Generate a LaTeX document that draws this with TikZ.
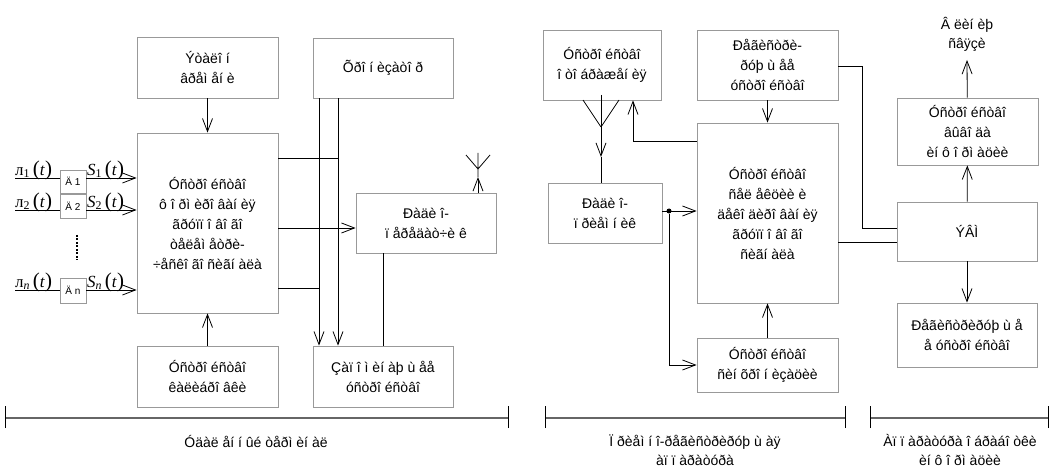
\documentclass[tikz,border=0pt]{standalone}
\usepackage{fontspec}
\setmainfont{Liberation Sans}
\newfontfamily\serif{Liberation Serif}
\usetikzlibrary{arrows.meta}
\newcommand{\pt}[1]{{\fontsize{21}{21}\selectfont(}\textit{#1}{\fontsize{21}{21}\selectfont)}}
\begin{document}
\begin{tikzpicture}[x=1pt,y=-1pt,
  box/.style={draw=black!40, fill=white, line width=0.8pt, align=center, inner sep=0pt, font=\fontsize{14}{20}\selectfont},
  sbox/.style={box, font=\fontsize{10}{12}\selectfont},
  conn/.style={line width=0.8pt, draw=black},
  arr/.style={conn, -{Straight Barb[length=13pt,width=10pt,line width=0.8pt]}},
  lbl/.style={inner sep=0pt, font=\fontsize{14}{19}\selectfont, align=center},
  frm/.style={inner sep=0pt, anchor=south west, font=\serif\fontsize{17}{17}\selectfont},
  dim/.style={line width=1.8pt, draw=black!60},
  tick/.style={line width=0.8pt, draw=black},
  dot/.style={circle, fill=black, inner sep=0pt, minimum size=5pt}
  ]
\useasboundingbox (0,0) rectangle (1055,470);
% ---------- left part ----------
\node[box, minimum width=141pt, minimum height=61pt] (et) at (207.5,67.5) {Ýòàëî í\\âðåì åí è};
\node[box, minimum width=141pt, minimum height=180pt] (main) at (207.5,223) {Óñòðî éñòâî\\ô î ðì èðî âàí èÿ\\ãðóïï î âî ãî\\òåëåì åòðè-\\÷åñêî ãî ñèãí àëà};
\node[box, minimum width=140pt, minimum height=60pt] (chr) at (383,68) {Õðî í èçàòî ð};
\node[box, minimum width=141pt, minimum height=61pt] (cal) at (207.5,376.5) {Óñòðî éñòâî\\êàëèáðî âêè};
\node[box, minimum width=140pt, minimum height=61pt] (mem) at (383,376.5) {Çàï î ì èí àþ ù åå\\óñòðî éñòâî};
\node[box, minimum width=140pt, minimum height=60pt] (tx) at (426,223) {Ðàäè î-\\ï åðåäàò÷è ê};

\node[sbox, minimum width=26pt, minimum height=23pt] (d1) at (73,181.5) {Ä 1};
\node[sbox, minimum width=26pt, minimum height=24pt] (d2) at (73,206.5) {Ä 2};
\node[sbox, minimum width=26pt, minimum height=25pt] (dn) at (73,290.5) {Ä n};

\coordinate (i1) at (15,178);
\coordinate (i2) at (15,210);
\coordinate (in) at (15,290);
\draw[conn] (i1) -- (i1 -| d1.west);
\draw[conn] (i2) -- (i2 -| d2.west);
\draw[conn] (in) -- (in -| dn.west);
\draw[arr] (i1 -| d1.east) -- (i1 -| main.west);
\draw[arr] (i2 -| d2.east) -- (i2 -| main.west);
\draw[arr] (in -| dn.east) -- (in -| main.west);
\node[frm] (l1) at (15,180) {л\textsubscript{1}\,\pt{t}};
\node[frm] (l2) at (15,212) {л\textsubscript{2}\,\pt{t}};
\node[frm] (ln) at (15,292) {л\textsubscript{\textit{n}}\,\pt{t}};
\node[frm] (s1) at (87,180) {\textit{S}\textsubscript{1}\,\pt{t}};
\node[frm] (s2) at (87,212) {\textit{S}\textsubscript{2}\,\pt{t}};
\node[frm] (sn) at (87,292) {\textit{S\textsubscript{n}}\,\pt{t}};
\coordinate (dt1) at (77,235);
\coordinate (dt2) at (77,260);
\draw[line width=2pt, dash pattern=on 2pt off 1.5pt] (dt1) -- (dt2);

\draw[arr] (et) -- (main);
\draw[arr] (cal) -- (main);
\coordinate (mo1) at (main.east |- 0,158);
\coordinate (mo2) at (main.east |- 0,228);
\coordinate (mo3) at (main.east |- 0,288);
\draw[arr] (mo2) -- (mo2 -| tx.west);
\draw[conn] (mo1) -- (338,158);
\draw[conn] (mo3) -- (319,288);
\draw[arr] (chr.south -| 338,0) -- (mem.north -| 338,0);
\draw[arr] (chr.south -| 319,0) -- (mem.north -| 319,0);
\draw[conn] (tx.south -| 383,0) -- (mem.north -| 383,0);
\coordinate (ant1) at (478,169);
\coordinate (ant1t) at (478,153);
\coordinate (ant1a) at (466,155);
\coordinate (ant1b) at (490,155);
\coordinate (ant1r) at (478,177);
\draw[arr] (tx.north -| ant1) -- (ant1r);
\draw[conn] (ant1r) -- (ant1t) (ant1) -- (ant1a) (ant1) -- (ant1b);

% ---------- right part ----------
\node[box, minimum width=118pt, minimum height=70pt] (disp) at (602,65) {Óñòðî éñòâî\\î òî áðàæåí èÿ};
\node[box, minimum width=141pt, minimum height=70pt] (reg) at (767.5,65) {Ðåãèñòðè-\\ðóþ ù åå\\óñòðî éñòâî};
\node[box, minimum width=141pt, minimum height=180pt] (sel) at (767.5,213) {Óñòðî éñòâî\\ñåë åêöèè è\\äåêî äèðî âàí èÿ\\ãðóïï î âî ãî\\ñèãí àëà};
\node[box, minimum width=114pt, minimum height=60pt] (rx) at (605,213) {Ðàäè î-\\ï ðèåì í èê};
\node[box, minimum width=141pt, minimum height=54pt] (syn) at (767.5,365) {Óñòðî éñòâî\\ñèí õðî í èçàöèè};
\node[box, minimum width=140pt, minimum height=59pt] (evm) at (967,231.5) {ÝÂÌ};
\node[box, minimum width=141pt, minimum height=67pt] (out) at (967.5,131.5) {Óñòðî éñòâî\\âûâî äà\\èí ô î ðì àöèè};
\node[box, minimum width=140pt, minimum height=64pt] (regb) at (967,335) {Ðåãèñòðèðóþ ù å\\å óñòðî éñòâî};
\node[lbl] (line) at (967,34) {Â ëèí èþ\\ñâÿçè};
\coordinate (lt) at (967,60);

\draw[arr] (sel.west |- 0,141) -- (633,141) -- (disp.south -| 633,0);
\draw[arr] (reg) -- (sel);
\draw[conn] (reg.east |- 0,66) -- (862,66) -- (862,228) -- (evm.west |- 0,228);
\draw[conn] (sel.east |- 0,242) -- (evm.west |- 0,242);
\draw[arr] (evm) -- (out);
\draw[arr] (out) -- (lt);
\draw[arr] (evm) -- (regb);
\node[dot] (jn) at (669,211) {};
\draw[arr] (rx.east |- jn) -- (sel.west |- jn);
\draw[arr] (jn) -- (669,365) -- (syn.west |- 0,365);
\draw[arr] (syn) -- (sel);
\coordinate (ant2t) at (601,95);
\coordinate (ant2) at (601,127);
\coordinate (ant2r) at (601,157);
\draw[arr] (ant2t) -- (ant2r);
\draw[conn] (ant2r) -- (rx.north -| ant2);
\draw[conn] (ant2) -- (583,100) (ant2) -- (619,100);

% ---------- bottom dimension bars ----------
\coordinate (b1) at (5,418);  \coordinate (b2) at (508,418);
\coordinate (b3) at (545,418); \coordinate (b4) at (845,418);
\coordinate (b5) at (870,418); \coordinate (b6) at (1048,418);
\draw[dim] (b1) -- (b2); \draw[dim] (b3) -- (b4); \draw[dim] (b5) -- (b6);
\foreach \b in {b1,b2,b3,b4,b5,b6} \draw[tick] ([yshift=-10pt]\b) -- ([yshift=12pt]\b);
\node[lbl] (t1) at (256,441) {Óäàë åí í ûé òåðì èí àë};
\node[lbl] (t2) at (695,450) {Ï ðèåì í î-ðåãèñòðèðóþ ù àÿ\\àï ï àðàòóðà};
\node[lbl] (t3) at (960,450) {Àï ï àðàòóðà î áðàáî òêè\\èí ô î ðì àöèè};
\end{tikzpicture}
\end{document}
